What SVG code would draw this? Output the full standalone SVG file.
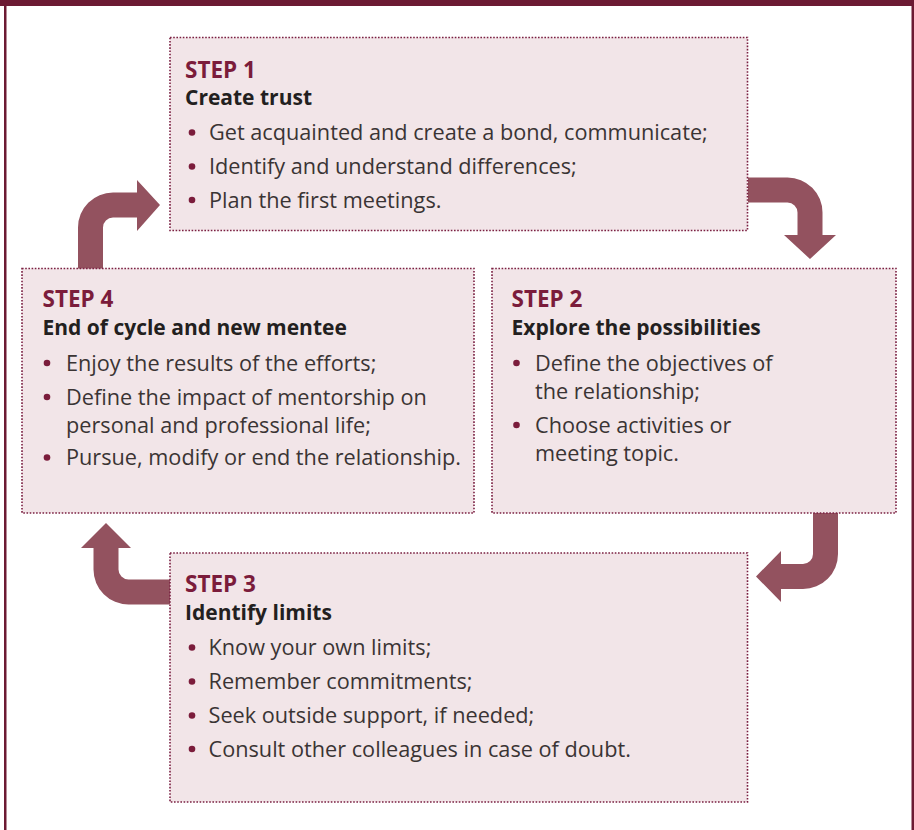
<svg xmlns="http://www.w3.org/2000/svg" width="914" height="830" viewBox="0 0 914 830">
  <style>
    .frame { fill: #6c1a33; }
    .box { fill: #f2e5e8; stroke: #7b2042; stroke-width: 1.6; stroke-dasharray: 1.6 1.6; }
    .arrow { fill: #93525f; }
    .label { font-family: "Open Sans", "Liberation Sans", sans-serif; font-weight: 700; font-size: 22.5px; fill: #7b1c3b; }
    .title { font-family: "Open Sans", "Liberation Sans", sans-serif; font-weight: 700; font-size: 21px; fill: #231f20; }
    .body { font-family: "Open Sans", "Liberation Sans", sans-serif; font-size: 21.7px; fill: #3a3434; }
    .dot { fill: #7b1c3b; }
  </style>

  <rect width="914" height="830" fill="#ffffff"/>

  <!-- outer frame -->
  <g id="frame">
    <rect class="frame" x="0" y="0" width="914" height="6"/>
    <rect class="frame" x="4" y="0" width="2.5" height="830"/>
    <rect class="frame" x="911.5" y="0" width="2.5" height="830"/>
  </g>

  <!-- curved arrows between steps -->
  <g id="connectors">
    <path class="arrow" d="M748,177.5 L787.5,177.5 A35,35 0 0 1 822.5,212.5 L822.5,235 L836,235 L810,259 L784,235 L797.5,235 L797.5,212.5 A10,10 0 0 0 787.5,202.5 L748,202.5 Z"/>
    <path class="arrow" d="M813,513 L813,554 A10,10 0 0 1 803,564 L781,564 L781,551 L756,576.5 L781,602 L781,589 L803,589 A35,35 0 0 0 838,554 L838,513 Z"/>
    <path class="arrow" d="M170,579.5 L128.5,579.5 A10,10 0 0 1 118.5,569.5 L118.5,548 L131,548 L106,523 L81,548 L93.5,548 L93.5,569.5 A35,35 0 0 0 128.5,604.5 L170,604.5 Z"/>
    <path class="arrow" d="M78,269 L78,227.5 A35,35 0 0 1 113,192.5 L137,192.5 L137,180 L160,205 L137,231 L137,217.5 L113,217.5 A10,10 0 0 0 103,227.5 L103,269 Z"/>
  </g>

  <g id="step1">
    <rect class="box" x="170" y="37.5" width="577.5" height="193"/>
    <text class="label" x="185" y="77.5">STEP 1</text>
    <text class="title" x="185" y="105">Create trust</text>
    <circle class="dot" cx="192" cy="132.5" r="3.3"/>
    <text class="body" x="209" y="140">Get acquainted and create a bond, communicate;</text>
    <circle class="dot" cx="192" cy="166.5" r="3.3"/>
    <text class="body" x="209" y="174">Identify and understand differences;</text>
    <circle class="dot" cx="192" cy="200" r="3.3"/>
    <text class="body" x="209" y="207.5">Plan the first meetings.</text>
  </g>

  <g id="step2">
    <rect class="box" x="492" y="268.5" width="404" height="244.5"/>
    <text class="label" x="511.5" y="307">STEP 2</text>
    <text class="title" x="511.5" y="335">Explore the possibilities</text>
    <circle class="dot" cx="516.5" cy="363" r="3.3"/>
    <text class="body" x="535" y="370.5">Define the objectives of</text>
    <text class="body" x="535" y="398.5">the relationship;</text>
    <circle class="dot" cx="516.5" cy="425" r="3.3"/>
    <text class="body" x="535" y="432.5">Choose activities or</text>
    <text class="body" x="535" y="460.5">meeting topic.</text>
  </g>

  <g id="step3">
    <rect class="box" x="170" y="553" width="577.5" height="249"/>
    <text class="label" x="185" y="591.5">STEP 3</text>
    <text class="title" x="185" y="620">Identify limits</text>
    <circle class="dot" cx="192" cy="647.5" r="3.3"/>
    <text class="body" x="208.5" y="655">Know your own limits;</text>
    <circle class="dot" cx="192" cy="681.5" r="3.3"/>
    <text class="body" x="208.5" y="689">Remember commitments;</text>
    <circle class="dot" cx="192" cy="715.5" r="3.3"/>
    <text class="body" x="208.5" y="723">Seek outside support, if needed;</text>
    <circle class="dot" cx="192" cy="749" r="3.3"/>
    <text class="body" x="208.5" y="756.5">Consult other colleagues in case of doubt.</text>
  </g>

  <g id="step4">
    <rect class="box" x="22" y="268.5" width="452" height="244.5"/>
    <text class="label" x="42.5" y="307">STEP 4</text>
    <text class="title" x="42.5" y="335">End of cycle and new mentee</text>
    <circle class="dot" cx="47" cy="363" r="3.3"/>
    <text class="body" x="66" y="370.5">Enjoy the results of the efforts;</text>
    <circle class="dot" cx="47" cy="397" r="3.3"/>
    <text class="body" x="66" y="404.5">Define the impact of mentorship on</text>
    <text class="body" x="66" y="432.5">personal and professional life;</text>
    <circle class="dot" cx="47" cy="457.5" r="3.3"/>
    <text class="body" x="66" y="465">Pursue, modify or end the relationship.</text>
  </g>
</svg>
